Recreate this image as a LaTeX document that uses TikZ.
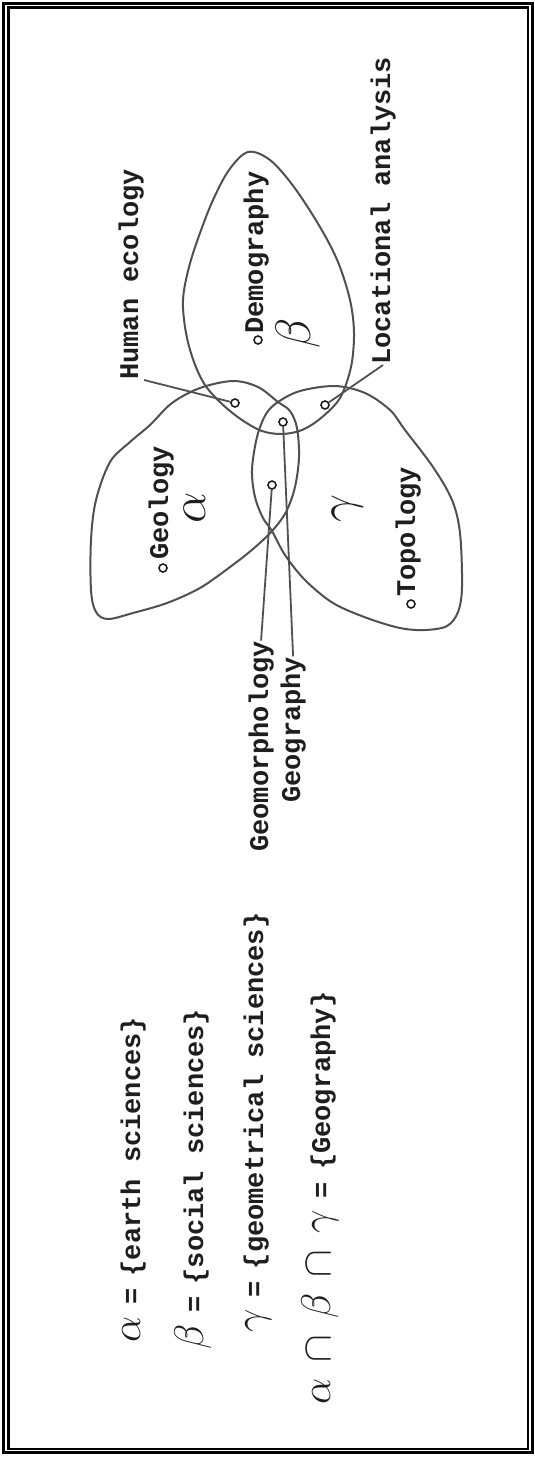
\documentclass[tikz,border=0pt]{standalone}
\usepackage{amsmath,amssymb,fontspec,tikz}
\setmonofont{Liberation Mono}
\definecolor{figK}{RGB}{30,30,30}
\definecolor{figL}{RGB}{80,80,80}
\newcommand{\gk}[1]{{\fontsize{22}{22}\selectfont$#1$}}
\newcommand{\eqs}{\hspace{6pt}=\hspace{6pt}}

\begin{document}
\begin{tikzpicture}[x=0.5pt,y=-0.5pt,
  lbl/.style={font=\ttfamily\bfseries\fontsize{13.5}{16}\selectfont,rotate=90,anchor=base west,inner sep=0pt,figK},
  gr/.style={font=\fontsize{26}{26}\selectfont,rotate=90,inner sep=0pt,figK},
  pt/.style={circle,draw=figK,line width=0.8pt,inner sep=0pt,minimum size=4pt},
  lobe/.style={figL,line width=1pt},
  lead/.style={figL,line width=0.9pt}]
\useasboundingbox (0,0) rectangle (535,1458);
\draw[line width=1.5pt] (3.5,3) rectangle (532.5,1452.5);
\draw[line width=1.2pt] (8.5,7.5) rectangle (528,1449);
\draw[lobe] plot[smooth cycle,tension=0.55] coordinates {(248,152) (270,160) (294,187) (320,227) (338,262) (350,300) (354,333) (351,367) (340,398) (321,418) (302,430) (282,434) (262,431) (242,420) (222,404) (205,385) (194,362) (186,333) (183,300) (189,267) (200,233) (213,200) (229,170)};
\draw[lobe] plot[smooth cycle,tension=0.55] coordinates {(278,402) (290,411) (297,428) (299,457) (295,487) (286,512) (272,531) (253,549) (230,567) (200,588) (167,603) (133,613) (108,619) (96,612) (91,590) (91,540) (96,500) (110,462) (130,442) (150,425) (172,403) (200,388) (233,381) (258,387)};
\draw[lobe] plot[smooth cycle,tension=0.55] coordinates {(278,402) (300,391) (335,386) (365,393) (390,410) (405,430) (433,467) (452,500) (460,533) (462,587) (458,612) (447,626) (425,630) (400,628) (367,618) (333,603) (305,580) (285,555) (272,531) (263,518) (255,497) (252,470) (257,437) (266,414)};
\node[gr] (ga) at (195,508) {$\alpha$};
\node[gr] (gb) at (298,333) {$\beta$};
\node[gr] (gc) at (348,508) {$\gamma$};
\node[pt] (pHum) at (235,403) {};
\node[pt] (pLoc) at (325,405) {};
\node[pt] (pGeog) at (283,422) {};
\node[pt] (pGeom) at (272,485) {};
\node[pt] (pDem) at (258,340) {};
\node[pt] (pGeo) at (163,568) {};
\node[pt] (pTop) at (411,604) {};
\node[lbl] (hum) at (138,380) {Human ecology};
\node[lbl] (dem) at (263,334) {Demography};
\node[lbl] (loc) at (390,365) {Locational analysis};
\node[lbl] (geo) at (168,560) {Geology};
\node[lbl] (top) at (415,597) {Topology};
\node[lbl] (geom) at (268,852) {Geomorphology};
\node[lbl] (geog) at (300,803) {Geography};
\draw[lead] (hum.south west) -- (pHum);
\draw[lead] (loc.west) -- (pLoc);
\draw[lead] (pGeom) -- (geom.east);
\draw[lead] (pGeog) -- (geog.east);
\node[lbl] (eqa) at (140,1343) {\gk{\alpha}\eqs\{earth sciences\}};
\node[lbl] (eqb) at (203,1350) {\gk{\beta}\eqs\{social sciences\}};
\node[lbl] (eqc) at (263,1333) {\gk{\gamma}\eqs\{geometrical sciences\}};
\node[lbl] (eqd) at (330,1405) {\gk{\alpha\,\cap\,\beta\,\cap\,\gamma}\eqs\{Geography\}};
\end{tikzpicture}
\end{document}
